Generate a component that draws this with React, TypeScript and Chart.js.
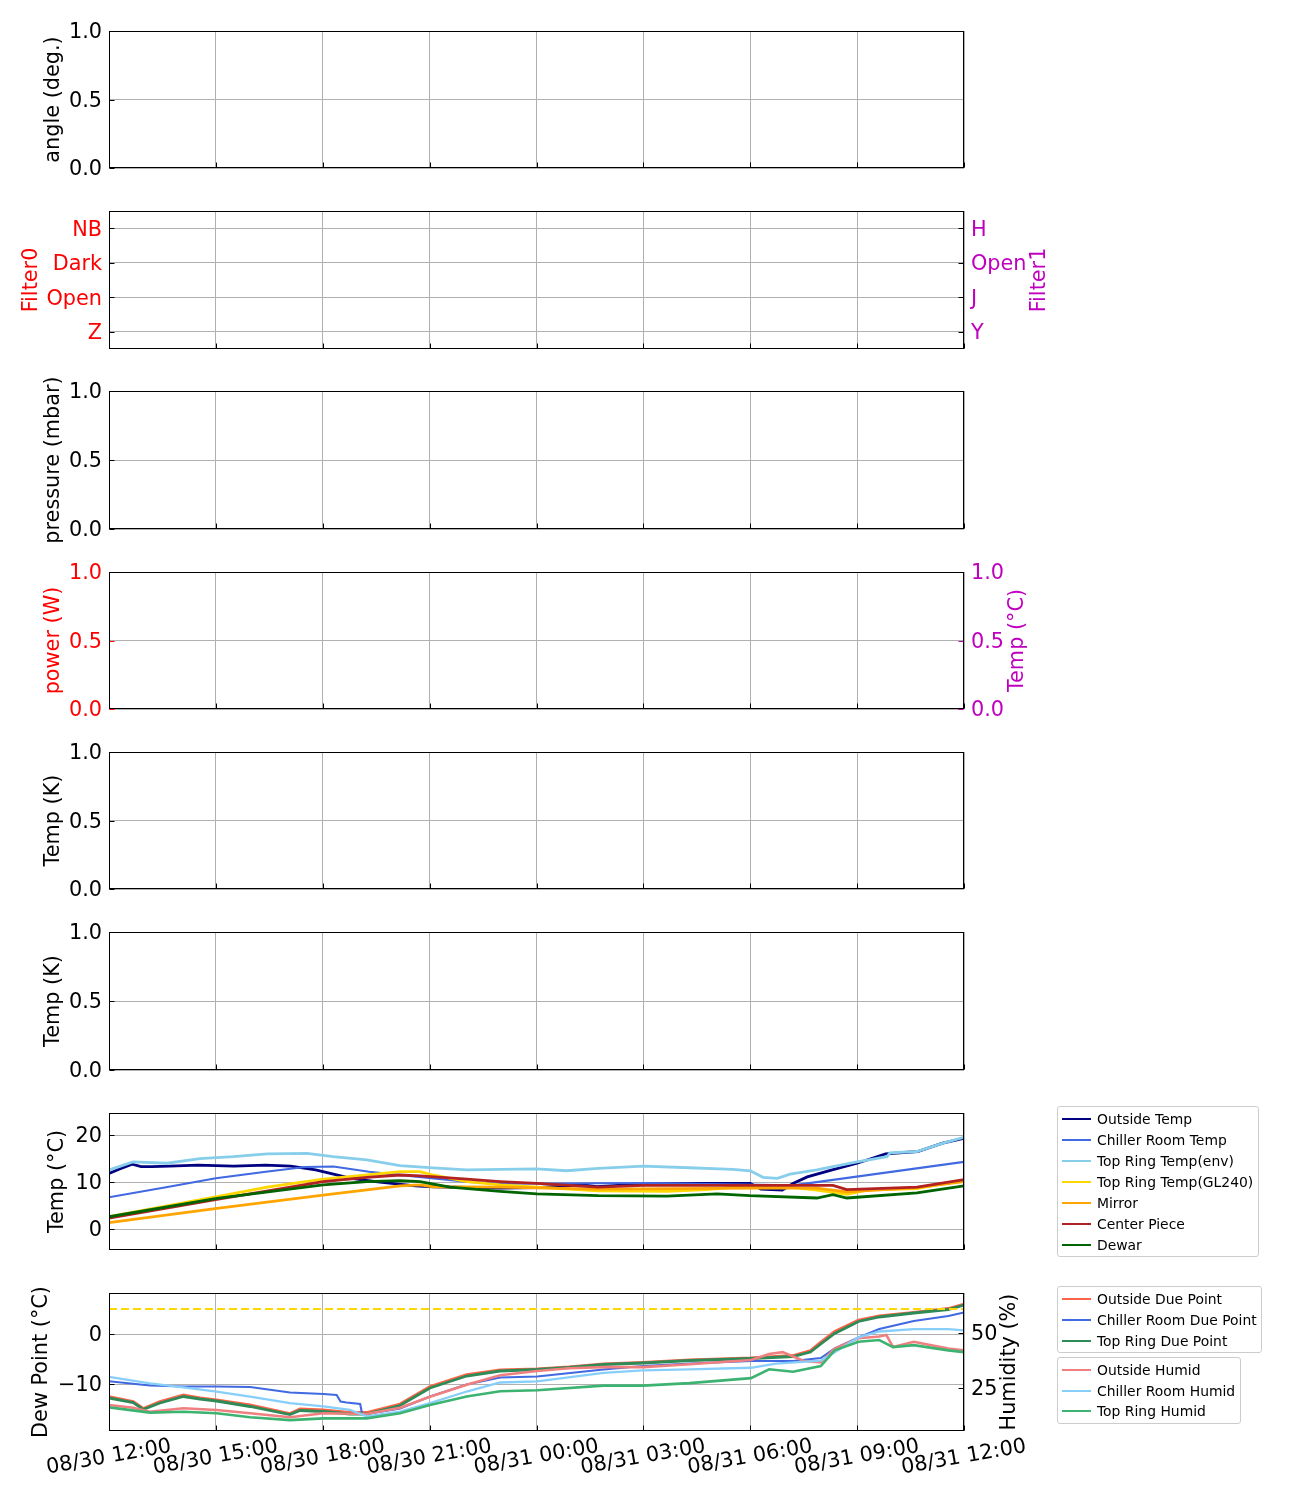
import React, { useEffect, useRef } from "react";
import { Chart, registerables } from "chart.js";
Chart.register(...registerables);

const FONT = "'DejaVu Sans', 'Liberation Sans', sans-serif";
const FS = 20.8;
const HALF_LH = (FS * 1.2) / 2;
const W = 1060;
const PLOT_LEFT = 109;
const PLOT_RIGHT = 964;
const M = 15;
const GRID = "#b0b0b0";
const RED = "#ff0000";
const MAG = "#bf00bf";

// ---- axes ----
const X_MIN = 0; // hours after 08/30 12:00
const X_MAX = 24;
const X_TICKS = [0, 3, 6, 9, 12, 15, 18, 21, 24];
const UNIT_TICKS = [0, 0.5, 1];
const FILTER_TICKS = [0, 1, 2, 3];
const FILTER0_LABELS = ["Z", "Open", "Dark", "NB"];
const FILTER1_LABELS = ["Y", "J", "Open", "H"];
const TEMP_C_TICKS = [0, 10, 20];
const DEW_TICKS = [-10, 0];
const HUMID_TICKS = [25, 50];
const DEW_LIMIT = 5;

// ---- temperature panel (°C) ----
const T_OUT = [0, 0.3, 0.65, 0.9, 1.2, 1.7, 2.5, 3.5, 4.4, 5.1, 5.8, 6.3, 6.8, 7.6, 8.6, 9.1, 11, 12, 13.3, 13.7, 15, 16.6, 18, 18.3, 18.9, 19.2, 19.6, 20.3, 21, 21.8, 22.7, 23.4, 24];
const V_OUT = [11.8, 12.8, 13.8, 13.3, 13.3, 13.4, 13.6, 13.4, 13.6, 13.4, 12.6, 11.7, 10.8, 10.0, 9.2, 9.0, 8.7, 8.8, 9.4, 9.0, 9.6, 9.7, 9.7, 8.5, 8.3, 9.7, 11.1, 12.6, 14.0, 16.0, 16.5, 18.3, 19.3];

const T_CHL = [0, 1.6, 3, 4.4, 5.5, 6.3, 7.3, 8.7, 10.1, 11, 15, 19.2, 24];
const V_CHL = [6.75, 8.9, 10.8, 12.2, 13.2, 13.3, 12.2, 11.1, 10.0, 9.65, 9.8, 9.3, 14.3];

const T_ENV = [0, 0.67, 1.63, 2.55, 3.48, 4.44, 5.56, 6.29, 7.24, 8.17, 9.09, 10.05, 11, 12, 12.85, 13.73, 15, 16.1, 17.5, 18, 18.36, 18.76, 19.12, 19.87, 20.32, 21, 21.84, 21.92, 22.68, 23.41, 24];
const V_ENV = [12.55, 14.3, 14.0, 15.0, 15.4, 16.0, 16.1, 15.4, 14.7, 13.5, 13.0, 12.6, 12.7, 12.8, 12.4, 12.9, 13.4, 13.1, 12.7, 12.4, 11.0, 10.8, 11.7, 12.6, 13.3, 14.3, 15.4, 16.2, 16.5, 18.3, 19.5];

const T_GL = [0, 3.03, 4.44, 6.01, 7.24, 8.17, 8.73, 9.09, 10.05, 10.98, 12.01, 13.73, 15.66, 16.78, 17.52, 19.12, 19.87, 20.71, 21.28, 22.68, 24];
const V_GL = [2.6, 6.9, 8.9, 10.6, 11.5, 12.2, 12.2, 11.5, 10.1, 9.4, 8.9, 8.15, 8.0, 8.4, 8.9, 8.9, 8.3, 7.4, 8.3, 8.6, 10.4];

const T_MIR = [0, 3.03, 6.01, 8.17, 8.73, 9.09, 10.98, 13.73, 17.99, 19.87, 20.71, 22.68, 24];
const V_MIR = [1.35, 4.4, 7.2, 9.2, 9.4, 9.0, 8.9, 8.5, 8.7, 8.7, 7.9, 8.8, 10.1];

const T_CTR = [0, 3.03, 6.01, 7.24, 8.17, 8.73, 10.05, 10.98, 12.01, 13.73, 14.99, 17.99, 20.32, 20.71, 22.68, 24];
const V_CTR = [2.3, 6.3, 10.1, 11.0, 11.5, 11.3, 10.6, 10.1, 9.7, 8.9, 9.3, 9.3, 9.3, 8.4, 8.9, 10.5];

const T_DWR = [0, 3.03, 6.01, 7.24, 8.17, 8.73, 9.57, 10.98, 12.01, 13.73, 15.66, 17.07, 17.99, 19.87, 20.32, 20.71, 22.68, 24];
const V_DWR = [2.6, 6.5, 9.4, 10.1, 10.3, 10.1, 8.9, 8.0, 7.5, 7.1, 7.0, 7.5, 7.1, 6.6, 7.3, 6.6, 7.7, 9.2];

// ---- dew point panel (°C) ----
const T_ODP = [0, 0.68, 0.96, 1.43, 2.09, 2.55, 3.02, 3.96, 5.08, 5.36, 6.02, 6.76, 7.23, 8.17, 9.01, 10.04, 10.98, 12.02, 12.91, 13.88, 14.99, 16.3, 18.02, 19.2, 19.69, 19.98, 20.37, 21.04, 21.62, 22.59, 23.56, 24];
const V_ODP = [-12.5, -13.5, -14.9, -13.5, -12.2, -12.8, -13.2, -14.2, -15.9, -15.0, -15.2, -15.7, -15.7, -14.0, -10.5, -8.1, -7.2, -7.0, -6.6, -6.0, -5.7, -5.2, -4.8, -4.3, -3.3, -1.6, 0.5, 2.8, 3.6, 4.3, 5.1, 6.0];
const V_TDP = [-12.8, -13.7, -15.1, -13.8, -12.5, -13.0, -13.4, -14.5, -16.1, -15.3, -15.5, -16.0, -16.0, -14.3, -10.8, -8.4, -7.4, -7.1, -6.7, -6.1, -5.8, -5.3, -4.9, -4.5, -3.6, -2.0, 0.1, 2.5, 3.4, 4.2, 4.9, 5.8];

const T_CDP = [0, 1.15, 2.09, 3.02, 3.96, 5.08, 6.02, 6.39, 6.5, 6.67, 7.05, 7.1, 7.14, 7.33, 8.17, 9.01, 10.04, 10.98, 12.02, 13.88, 14.99, 16.3, 18.02, 19.2, 19.98, 20.37, 21.04, 21.62, 22.59, 23.56, 24];
const V_CDP = [-9.46, -10.3, -10.5, -10.5, -10.6, -11.7, -12.0, -12.2, -13.5, -13.7, -14.0, -15.8, -16.2, -15.9, -14.9, -12.5, -10.1, -8.7, -8.5, -7.1, -6.4, -5.9, -5.4, -5.4, -4.8, -2.9, -0.7, 1.0, 2.6, 3.6, 4.3];

// ---- humidity (%) ----
const T_OH = [0, 0.68, 1.15, 2.09, 3.02, 3.96, 5.08, 6.02, 7.23, 8.17, 9.01, 10.04, 10.98, 12.02, 12.91, 13.88, 14.99, 16.3, 18.02, 18.53, 18.91, 19.49, 19.98, 20.37, 21.04, 21.62, 21.82, 22.01, 22.59, 23.56, 24];
const V_OH = [17.3, 16.0, 14.2, 15.8, 15.0, 13.5, 11.7, 13.5, 13.2, 16.0, 21.0, 26.5, 30.8, 32.7, 34.0, 34.5, 34.5, 35.8, 37.7, 40.5, 41.3, 37.4, 36.6, 42.9, 47.6, 48.4, 49.1, 43.6, 46.0, 42.9, 42.1];

const T_CH = [0, 1.15, 2.09, 3.02, 3.96, 5.08, 6.02, 6.76, 7.23, 8.17, 9.01, 10.04, 10.98, 12.02, 13.88, 14.99, 16.3, 18.02, 18.72, 19.98, 20.37, 21.04, 21.62, 22.59, 23.56, 24];
const V_CH = [30.1, 27.1, 25.3, 23.4, 21.1, 18.1, 16.6, 15.1, 12.1, 14.3, 18.1, 23.4, 27.5, 28.0, 31.9, 33.0, 33.5, 34.2, 36.1, 37.4, 41.3, 48.0, 50.7, 51.8, 51.8, 51.2];

const T_TH = [0, 1.15, 2.09, 3.02, 3.96, 5.08, 6.02, 7.23, 8.17, 9.01, 10.04, 10.98, 12.02, 13.88, 14.99, 16.3, 18.02, 18.53, 19.2, 19.98, 20.37, 21.04, 21.62, 22.01, 22.59, 23.56, 24];
const V_TH = [16.2, 13.8, 14.2, 13.5, 11.7, 10.4, 11.2, 11.2, 13.5, 17.3, 21.1, 23.5, 24.0, 26.1, 26.1, 27.2, 29.5, 33.5, 32.4, 35.0, 42.1, 46.0, 46.8, 43.6, 44.5, 42.1, 41.3];

// ---- series meta ----
const TEMP_LABELS = ["Outside Temp", "Chiller Room Temp", "Top Ring Temp(env)", "Top Ring Temp(GL240)", "Mirror", "Center Piece", "Dewar"];
const TEMP_COLORS = ["#000080", "#4169e1", "#87ceeb", "#ffd700", "#ffa500", "#b22222", "#006400"];
const DP_LABELS = ["Outside Due Point", "Chiller Room Due Point", "Top Ring Due Point"];
const DP_COLORS = ["#ff6347", "#4169e1", "#2e8b57"];
const HUM_LABELS = ["Outside Humid", "Chiller Room Humid", "Top Ring Humid"];
const HUM_COLORS = ["#f08080", "#87cefa", "#3cb371"];

const pts = (t: number[], v: number[]) => t.map((x, i) => ({ x, y: v[i] }));

const timeLabel = (v: number) => {
  const h = 12 + v;
  const day = 30 + Math.floor(h / 24);
  const hh = h % 24;
  return `08/${day} ${String(hh).padStart(2, "0")}:00`;
};
const fmtMinus = (v: number) => (v < 0 ? "\u2212" + Math.abs(v) : String(v));

// ---- plugins ----
const frameTicks = {
  id: "frameTicks",
  afterDatasetsDraw(chart: any, _args: any, opts: any) {
    const { ctx, chartArea: ca } = chart;
    const colors = (opts && opts.colors) || {};
    ctx.save();
    ctx.lineWidth = 1;
    const L = Math.round(ca.left) + 0.5;
    const R = Math.round(ca.right) - 0.5;
    const T = Math.round(ca.top) + 0.5;
    const B = Math.round(ca.bottom) - 0.5;
    Object.keys(chart.scales).forEach((id) => {
      const s = chart.scales[id];
      ctx.strokeStyle = colors[id] || "#000";
      s.ticks.forEach((t: any) => {
        const p = Math.round(s.getPixelForValue(t.value)) + 0.5;
        ctx.beginPath();
        if (s.axis === "x") {
          ctx.moveTo(p, B);
          ctx.lineTo(p, B - 5);
        } else if (s.position === "left") {
          ctx.moveTo(L, p);
          ctx.lineTo(L + 5, p);
        } else {
          ctx.moveTo(R, p);
          ctx.lineTo(R - 5, p);
        }
        ctx.stroke();
      });
    });
    ctx.strokeStyle = "#000";
    ctx.strokeRect(L, T, R - L, B - T);
    ctx.restore();
  },
};

const sideTitle = {
  id: "sideTitle",
  afterDraw(chart: any, _args: any, opts: any) {
    if (!opts || !opts.text) return;
    const { ctx, chartArea } = chart;
    ctx.save();
    ctx.translate(opts.x, (chartArea.top + chartArea.bottom) / 2);
    ctx.rotate(-Math.PI / 2);
    ctx.font = `${FS}px ${FONT}`;
    ctx.fillStyle = opts.color;
    ctx.textAlign = "center";
    ctx.textBaseline = "middle";
    ctx.fillText(opts.text, 0, 0);
    ctx.restore();
  },
};

// ---- scale builders ----
function xScale(showLabels: boolean) {
  return {
    type: "linear",
    min: X_MIN,
    max: X_MAX,
    afterBuildTicks: (s: any) => {
      s.ticks = X_TICKS.map((value) => ({ value }));
    },
    afterFit: (s: any) => {
      s.height = showLabels ? 55 : 0;
      s.paddingLeft = 0;
      s.paddingRight = 0;
    },
    ticks: {
      display: showLabels,
      autoSkip: false,
      minRotation: 10,
      maxRotation: 10,
      padding: 3,
      labelOffset: 62,
      color: "#000",
      font: { family: FONT, size: FS },
      callback: (v: any) => timeLabel(Number(v)),
    },
    grid: { color: GRID, lineWidth: 1, drawTicks: false },
    border: { display: false },
  };
}

function yScale(o: {
  position: "left" | "right";
  min: number;
  max: number;
  ticks: number[];
  fmt: (v: number) => string;
  color?: string;
  title?: string;
  titleX?: number;
  grid?: boolean;
}) {
  const color = o.color || "#000";
  const left = o.position === "left";
  return {
    type: "linear",
    position: o.position,
    min: o.min,
    max: o.max,
    afterBuildTicks: (s: any) => {
      s.ticks = o.ticks.map((value) => ({ value }));
    },
    afterFit: (s: any) => {
      s.width = left ? PLOT_LEFT : W - PLOT_RIGHT;
      s.paddingTop = 0;
      s.paddingBottom = 0;
    },
    ticks: { color, padding: 7, labelOffset: 2, font: { family: FONT, size: FS }, callback: (v: any) => o.fmt(Number(v)) },
    grid: { display: o.grid !== false, color: GRID, lineWidth: 1, drawTicks: false },
    border: { display: false },
    title:
      left && o.title
        ? { display: true, text: o.title, color, font: { family: FONT, size: FS }, padding: { top: (o.titleX || 54) - HALF_LH, bottom: 0 } }
        : { display: false },
  };
}

const unit = (v: number) => v.toFixed(1);

type PanelDef = {
  top: number;
  bottom: number;
  last?: boolean;
  hasRight?: boolean;
  scales: any;
  datasets: any[];
  side?: any;
  tickColors?: any;
};

function line(label: string, data: any, color: string, width: number, order: number, axis = "y", extra: any = {}) {
  return { label, data, borderColor: color, backgroundColor: color, borderWidth: width, pointRadius: 0, tension: 0, fill: false, yAxisID: axis, order, ...extra };
}

const emptyPanel = (top: number, bottom: number, title: string): PanelDef => ({
  top,
  bottom,
  scales: { x: xScale(false), y: yScale({ position: "left", min: 0, max: 1, ticks: UNIT_TICKS, fmt: unit, title, titleX: 54 }) },
  datasets: [],
});

const tempSeries = [pts(T_OUT, V_OUT), pts(T_CHL, V_CHL), pts(T_ENV, V_ENV), pts(T_GL, V_GL), pts(T_MIR, V_MIR), pts(T_CTR, V_CTR), pts(T_DWR, V_DWR)];
const tempWidths = [2.8, 2.1, 2.8, 2.8, 2.8, 2.8, 2.8];
const dpSeries = [pts(T_ODP, V_ODP), pts(T_CDP, V_CDP), pts(T_ODP, V_TDP)];
const dpWidths = [2.8, 2.1, 2.8];
const humSeries = [pts(T_OH, V_OH), pts(T_CH, V_CH), pts(T_TH, V_TH)];
const humWidths = [2.6, 2.3, 2.6];

const PANELS: PanelDef[] = [
  emptyPanel(31, 168, "angle (deg.)"),
  {
    top: 211,
    bottom: 349,
    hasRight: true,
    scales: {
      x: xScale(false),
      y: yScale({ position: "left", min: -0.5, max: 3.5, ticks: FILTER_TICKS, fmt: (v) => FILTER0_LABELS[v] || "", color: RED, title: "Filter0", titleX: 32 }),
      y1: yScale({ position: "right", min: -0.5, max: 3.5, ticks: FILTER_TICKS, fmt: (v) => FILTER1_LABELS[v] || "", color: MAG, grid: false }),
    },
    datasets: [],
    side: { text: "Filter1", color: MAG, x: 1040 },
  },
  emptyPanel(391, 529, "pressure (mbar)"),
  {
    top: 572,
    bottom: 709,
    hasRight: true,
    scales: {
      x: xScale(false),
      y: yScale({ position: "left", min: 0, max: 1, ticks: UNIT_TICKS, fmt: unit, color: RED, title: "power (W)", titleX: 54 }),
      y1: yScale({ position: "right", min: 0, max: 1, ticks: UNIT_TICKS, fmt: unit, color: MAG, grid: false }),
    },
    datasets: [],
    side: { text: "Temp (°C)", color: MAG, x: 1018 },
    tickColors: { y: RED, y1: MAG },
  },
  emptyPanel(752, 889, "Temp (K)"),
  emptyPanel(932, 1070, "Temp (K)"),
  {
    top: 1113,
    bottom: 1250,
    scales: {
      x: xScale(false),
      y: yScale({ position: "left", min: -4.47, max: 24.7, ticks: TEMP_C_TICKS, fmt: (v) => String(v), title: "Temp (°C)", titleX: 58 }),
    },
    datasets: tempSeries.map((d, i) => line(TEMP_LABELS[i], d, TEMP_COLORS[i], tempWidths[i], 20 - i)),
  },
  {
    top: 1293,
    bottom: 1431,
    last: true,
    hasRight: true,
    scales: {
      x: xScale(true),
      y: yScale({ position: "left", min: -19.4, max: 8.2, ticks: DEW_TICKS, fmt: fmtMinus, title: "Dew Point (°C)", titleX: 42 }),
      y1: yScale({ position: "right", min: 5.45, max: 68.2, ticks: HUMID_TICKS, fmt: (v) => String(v), grid: false }),
    },
    datasets: [
      ...dpSeries.map((d, i) => line(DP_LABELS[i], d, DP_COLORS[i], dpWidths[i], 20 - i)),
      line("limit", [{ x: X_MIN, y: DEW_LIMIT }, { x: X_MAX, y: DEW_LIMIT }], "#ffd700", 2, 16, "y", { borderDash: [8, 4] }),
      ...humSeries.map((d, i) => line(HUM_LABELS[i], d, HUM_COLORS[i], humWidths[i], 10 - i, "y1")),
    ],
    side: { text: "Humidity (%)", color: "#000", x: 1010 },
  },
];

function PanelChart({ def }: { def: PanelDef }) {
  const ref = useRef<HTMLCanvasElement>(null);
  const bottomExtra = def.last ? 57 : M;
  const height = def.bottom - def.top + M + bottomExtra;
  useEffect(() => {
    const chart = new Chart(ref.current as HTMLCanvasElement, {
      type: "line",
      data: { datasets: def.datasets },
      options: {
        animation: false,
        responsive: false,
        maintainAspectRatio: false,
        events: [],
        layout: { padding: { left: 0, right: def.hasRight ? 0 : W - PLOT_RIGHT, top: M, bottom: def.last ? 2 : M } },
        scales: def.scales,
        plugins: {
          legend: { display: false },
          tooltip: { enabled: false },
          frameTicks: { colors: def.tickColors || {} },
          sideTitle: def.side || {},
        } as any,
      } as any,
      plugins: [frameTicks, sideTitle],
    } as any);
    return () => chart.destroy();
  }, []);
  return (
    <canvas
      ref={ref}
      width={W}
      height={height}
      style={{ position: "absolute", left: 0, top: def.top - M, width: W, height }}
    />
  );
}

function Legend({ left, top, width, height, labels, colors, rowTop, rowStep }: any) {
  return (
    <div
      style={{
        position: "absolute",
        left,
        top,
        width,
        height,
        boxSizing: "border-box",
        border: "1px solid #cccccc",
        borderRadius: 3,
        background: "rgba(255,255,255,0.8)",
        fontFamily: FONT,
        fontSize: 13.9,
        color: "#000",
      }}
    >
      {labels.map((lab: string, i: number) => {
        const cy = rowTop + rowStep * i - top;
        return (
          <React.Fragment key={lab}>
            <div style={{ position: "absolute", left: 4, top: cy - 1, width: 29, height: 2, background: colors[i] }} />
            <div style={{ position: "absolute", left: 39, top: cy - 9, height: 18, lineHeight: "18px", whiteSpace: "nowrap" }}>{lab}</div>
          </React.Fragment>
        );
      })}
    </div>
  );
}

export default function App() {
  return (
    <div style={{ position: "absolute", left: 0, top: 0, width: 1300, height: 1500, background: "#fff" }}>
      {PANELS.map((p, i) => (
        <PanelChart key={i} def={p} />
      ))}
      <Legend left={1057} top={1106} width={202} height={151} labels={TEMP_LABELS} colors={TEMP_COLORS} rowTop={1118} rowStep={21} />
      <Legend left={1057} top={1286} width={205} height={67} labels={DP_LABELS} colors={DP_COLORS} rowTop={1298} rowStep={21} />
      <Legend left={1057} top={1357} width={184} height={67} labels={HUM_LABELS} colors={HUM_COLORS} rowTop={1369} rowStep={20.7} />
    </div>
  );
}
